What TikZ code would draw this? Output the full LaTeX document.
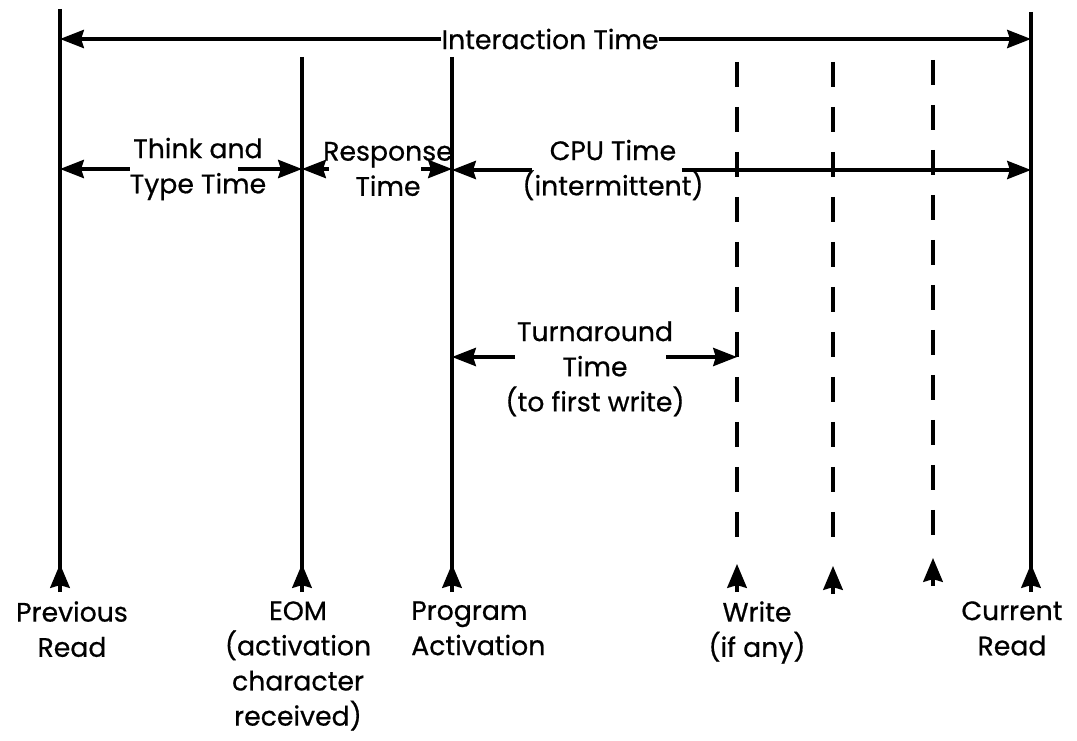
\documentclass[tikz,border=0pt]{standalone}
\usepackage{fontspec}
\setmainfont{Poppins}[FakeBold=0.6]
\usetikzlibrary{arrows.meta}

\begin{document}
\begin{tikzpicture}[x=0.025cm, y=-0.025cm,
   event/.style={line width=2.2pt},
   maybe/.style={line width=2.2pt, dash pattern=on 18pt off 14pt},
   span/.style={line width=2.2pt, -{Stealth[length=17pt,width=13pt,inset=2pt]}},
   marker/.style={line width=2.2pt, -{Stealth[length=17pt,width=14pt,inset=2pt]}},
   txt/.style={font=\fontsize{19}{25}\selectfont, align=center, inner sep=0pt}]

   \fill[white] (0,0) rectangle (1077,741);
   \useasboundingbox (0,0) rectangle (1077,741);

   % solid event lines
   \foreach \n/\x/\t in {prev/60/9, eom/302/57, prog/452/57, curr/1031/12}
   {
      \path (\x,\t) coordinate (\n T);
      \path (\x,592) coordinate (\n B);
      \draw[event] (\n T) -- (\n B);
      \draw[marker] (\n B) -- ++(0,-28);
   }

   % dashed write lines
   \foreach \n/\x/\t/\b in {wrA/737/62/592, wrB/833/62/594, wrC/933/60/586}
   {
      \path (\x,\t) coordinate (\n T);
      \path (\x,\b) coordinate (\n B);
      \draw[maybe] (\n T) -- ++(0,491);
      \draw[marker] (\n B) -- ++(0,-28);
   }

   % labels under the lines
   \node[txt, anchor=north] (prevL) at (72,601) {Previous\\Read};
   \node[txt, anchor=north] (eomL) at (298,601) {EOM\\(activation\\character\\received)};
   \node[txt, anchor=north west, align=left] (progL) at (411,601) {Program\\Activation};
   \node[txt, anchor=north] (wrL) at (757,601) {Write\\(if any)};
   \node[txt, anchor=north] (currL) at (1012,601) {Current\\Read};

   % interaction time
   \node[txt] (inter) at (550,39) {Interaction Time};
   \draw[span] (inter.west) -- (prevT |- inter.west);
   \draw[span] (inter.east) -- (currT |- inter.east);

   % think and type time
   \node[txt] (think) at (198,169) {Think and\\Type Time};
   \draw[span] (think.west) -- (prevT |- think.west);
   \draw[span] ([xshift=-0.7cm]think.east) -- (eomT |- think.east);

   % response time
   \node[txt] (resp) at (388,169) {Response\\Time};
   \draw[span] ([xshift=0.15cm]resp.west) -- (eomT |- resp.west);
   \draw[span] ([xshift=-0.8cm]resp.east) -- (progT |- resp.east);

   % cpu time
   \node[txt] (cpu) at (613,170) {CPU Time\\(intermittent)};
   \draw[span] ([xshift=0.25cm]cpu.west) -- (progT |- cpu.west);
   \draw[span] ([xshift=-0.55cm]cpu.east) -- (currT |- cpu.east);

   % turnaround time
   \node[txt, anchor=north] (turn) at (595,321) {Turnaround\\Time\\(to first write)};
   \coordinate (turnL) at (515,357);
   \coordinate (turnR) at (666,357);
   \draw[span] (turnL) -- (progT |- turnL);
   \draw[span] (turnR) -- (wrAT |- turnR);
\end{tikzpicture}
\end{document}
